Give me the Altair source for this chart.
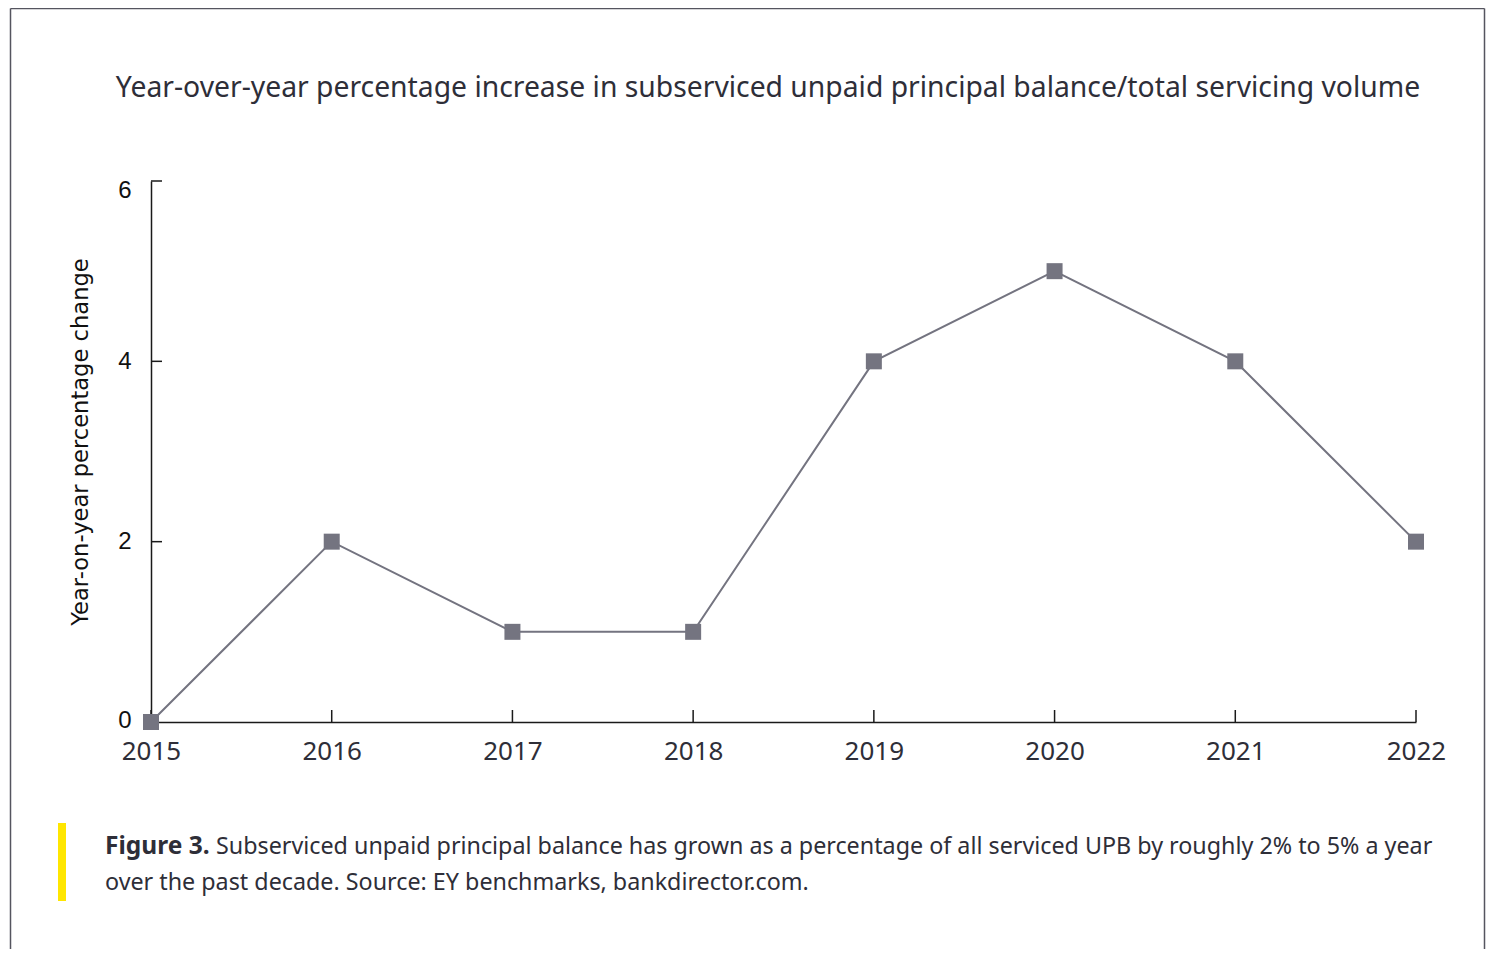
import altair as alt
import pandas as pd

# ---- data ----
years = [2015, 2016, 2017, 2018, 2019, 2020, 2021, 2022]
pct_change = [0, 2, 1, 1, 4, 5, 4, 2]
y_ticks = [0, 2, 4, 6]
title_text = "Year-over-year percentage increase in subserviced unpaid principal balance/total servicing volume"
y_title = "Year-on-year percentage change"
caption_bold = "Figure 3."
caption_line1 = "Subserviced unpaid principal balance has grown as a percentage of all serviced UPB by roughly 2% to 5% a year"
caption_line2 = "over the past decade. Source: EY benchmarks, bankdirector.com."

df = pd.DataFrame({"year": years, "pct": pct_change})
df_yt = pd.DataFrame({"v": [t for t in y_ticks if t > 0]})
one = pd.DataFrame({"k": [0]})

W, H = 1265, 541
TEXT = "#2e2e38"
LINE = "#747480"
TITLE_FONT = "Noto Sans"

x_scale = alt.Scale(domain=[2015, 2022], nice=False, zero=False)
y_scale = alt.Scale(domain=[0, 6], nice=False)

x_axis = alt.Axis(values=years, format="d", tickSize=0, labelPadding=16, grid=False,
                  domainColor="#1a1a1a", domainWidth=1.5, title=None, labelFlush=False,
                  labelFont=TITLE_FONT, labelFontSize=26, labelColor=TEXT)
y_axis = alt.Axis(values=y_ticks, tickSize=0, labelPadding=20, grid=False,
                  domainColor="#1a1a1a", domainWidth=1.5, title=y_title,
                  labelFont="Liberation Sans", labelFontSize=24, labelColor="#111111",
                  labelOffset=alt.ExprRef(expr="datum.value == 6 ? 9 : (datum.value == 0 ? -2 : 0)"),
                  titleFont="DejaVu Sans", titleFontSize=22.6, titleFontWeight="normal",
                  titleColor="#111111", titleX=-71, titleY=260.5, titleAngle=270,
                  titleAlign="center", titleBaseline="middle")

X = alt.X("year:Q", scale=x_scale, axis=x_axis)
Y = alt.Y("pct:Q", scale=y_scale, axis=y_axis)

line = alt.Chart(df).mark_line(color=LINE, strokeWidth=2).encode(x=X, y=Y)
pts = alt.Chart(df).mark_point(shape="square", filled=True, size=256, color=LINE, opacity=1).encode(x=X, y=Y)

x_ticks = alt.Chart(df).mark_rule(color="#1a1a1a", strokeWidth=1.5).encode(
    x=X, y=alt.value(H), y2=alt.value(H - 12))
y_tick_marks = alt.Chart(df_yt).mark_rule(color="#1a1a1a", strokeWidth=1.5).encode(
    y=alt.Y("v:Q", scale=y_scale, axis=y_axis), x=alt.value(0), x2=alt.value(11))

# frame around the figure
frame_color = "#55555f"
FR = 1333.5
frame_top = alt.Chart(one).mark_rule(color=frame_color, strokeWidth=1.5).encode(
    x=alt.value(-140.5), x2=alt.value(FR), y=alt.value(-172.5))
frame_left = alt.Chart(one).mark_rule(color=frame_color, strokeWidth=1.5).encode(
    x=alt.value(-140.5), y=alt.value(-172.5), y2=alt.value(768))
frame_right = alt.Chart(one).mark_rule(color=frame_color, strokeWidth=1.5).encode(
    x=alt.value(FR), y=alt.value(-172.5), y2=alt.value(768))

yellow = alt.Chart(one).mark_rule(color="#ffe600", strokeWidth=8).encode(
    x=alt.value(-89), y=alt.value(642), y2=alt.value(720))

title = alt.Chart(one).mark_text(font=TITLE_FONT, fontSize=28.3, color=TEXT, align="center",
                                 baseline="middle").encode(
    x=alt.value(617), y=alt.value(-92), text=alt.value(title_text))

cap_b = alt.Chart(one).mark_text(font=TITLE_FONT, fontSize=24.5, fontWeight="bold", color=TEXT,
                                 align="left", baseline="middle").encode(
    x=alt.value(-46), y=alt.value(666), text=alt.value(caption_bold))
cap_1 = alt.Chart(one).mark_text(font=TITLE_FONT, fontSize=23.3, color=TEXT,
                                 align="left", baseline="middle").encode(
    x=alt.value(65), y=alt.value(666), text=alt.value(caption_line1))
cap_2 = alt.Chart(one).mark_text(font=TITLE_FONT, fontSize=23.3, color=TEXT,
                                 align="left", baseline="middle").encode(
    x=alt.value(-46), y=alt.value(702), text=alt.value(caption_line2))

chart = alt.layer(
    frame_top, frame_left, frame_right, yellow, title, cap_b, cap_1, cap_2,
    x_ticks, y_tick_marks, line, pts
).properties(
    width=W, height=H,
    background="white",
    autosize=alt.AutoSizeParams(type="none"),
    padding={"left": 143, "top": 173, "right": 70, "bottom": 227},
).configure_view(stroke=None)

chart.save("out.html", embed_options={"renderer": "svg", "actions": False})
